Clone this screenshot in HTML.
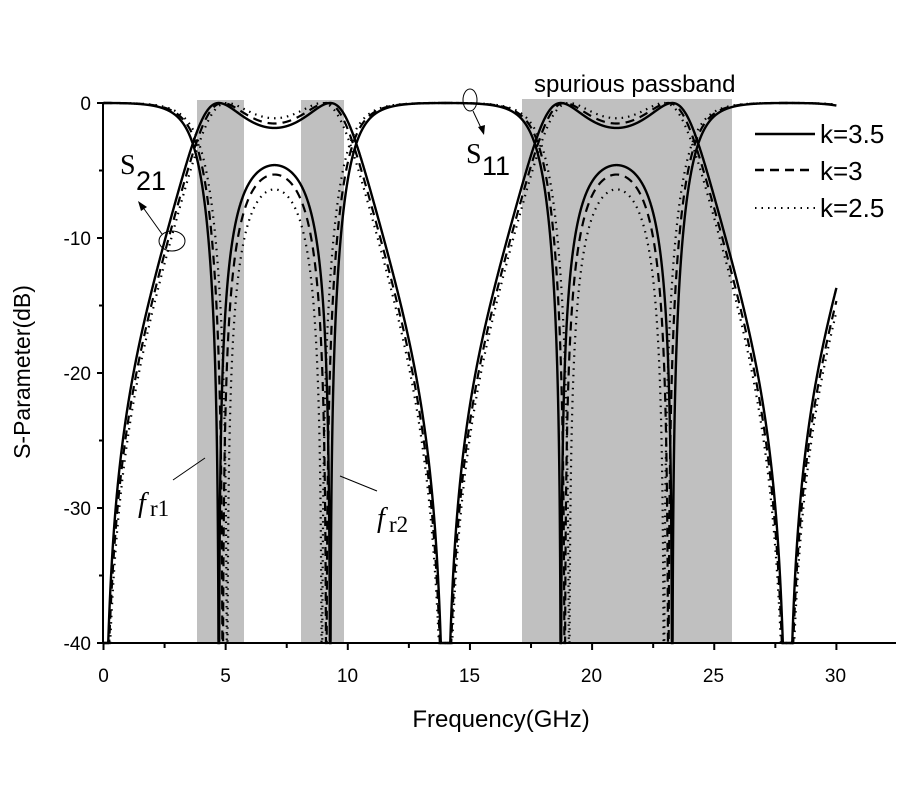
<!DOCTYPE html>
<html><head><meta charset="utf-8"><style>
html,body{margin:0;padding:0;background:#fff;}
svg{display:block;font-family:"Liberation Sans",Arial,sans-serif;}
</style></head><body>
<svg id="s" width="900" height="800" viewBox="0 0 900 800" xmlns="http://www.w3.org/2000/svg">
<rect x="197" y="100" width="47" height="543" fill="#c0c0c0"/>
<rect x="301" y="100" width="43" height="543" fill="#c0c0c0"/>
<rect x="522" y="99" width="210" height="544" fill="#c0c0c0"/>
<g id="curves" fill="none" stroke="#000"></g>
<g stroke="#000" stroke-width="2" fill="none">
<line x1="103" y1="102" x2="103" y2="644"/>
<line x1="102" y1="643" x2="896" y2="643"/>
<line x1="97" y1="103" x2="103" y2="103"/>
<line x1="97" y1="238" x2="103" y2="238"/>
<line x1="97" y1="373" x2="103" y2="373"/>
<line x1="97" y1="508" x2="103" y2="508"/>
<line x1="97" y1="643" x2="103" y2="643"/>
<line x1="99" y1="170.5" x2="103" y2="170.5"/>
<line x1="99" y1="305.5" x2="103" y2="305.5"/>
<line x1="99" y1="440.5" x2="103" y2="440.5"/>
<line x1="99" y1="575.5" x2="103" y2="575.5"/>
</g>
<g id="xt" stroke="#000" stroke-width="2"></g>
<g font-size="19" fill="#000" text-anchor="end">
<text x="91" y="110">0</text>
<text x="91" y="245">-10</text>
<text x="91" y="380">-20</text>
<text x="91" y="515">-30</text>
<text x="91" y="650">-40</text>
</g>
<g font-size="19" fill="#000" text-anchor="middle">
<text x="103.5" y="682">0</text>
<text x="225.5" y="682">5</text>
<text x="347.5" y="682">10</text>
<text x="469.5" y="682">15</text>
<text x="591.5" y="682">20</text>
<text x="713.5" y="682">25</text>
<text x="835.5" y="682">30</text>
</g>
<text x="501" y="727" font-size="24" text-anchor="middle">Frequency(GHz)</text>
<text transform="translate(30,372) rotate(-90)" font-size="23" text-anchor="middle">S-Parameter(dB)</text>
<text x="534" y="92" font-size="24">spurious passband</text>
<g stroke="#000" stroke-width="2.5">
<line x1="755" y1="134" x2="815" y2="134"/>
<line x1="755" y1="170" x2="815" y2="170" stroke-dasharray="9,6"/>
<line x1="755" y1="208" x2="815" y2="208" stroke-dasharray="1.5,5" stroke-width="2"/>
</g>
<g font-size="26"><text x="820" y="143">k=3.5</text><text x="820" y="180">k=3</text><text x="820" y="217">k=2.5</text></g>
<text x="120" y="174" font-size="28" font-family="Liberation Serif,serif">S</text>
<text x="136" y="190" font-size="27">21</text>
<ellipse cx="172" cy="241" rx="13" ry="10" fill="none" stroke="#000" stroke-width="1"/>
<line x1="162" y1="234" x2="142" y2="206" stroke="#000" stroke-width="1"/>
<polygon points="138,201 147,207 141,211" fill="#000"/>
<text x="466" y="163" font-size="28" font-family="Liberation Serif,serif">S</text>
<text x="482" y="175" font-size="27">11</text>
<ellipse cx="470" cy="100" rx="7" ry="11" fill="none" stroke="#000" stroke-width="1"/>
<line x1="473" y1="111" x2="482" y2="130" stroke="#000" stroke-width="1"/>
<polygon points="484,135 478,127 485,125" fill="#000"/>
<text x="138" y="512" font-size="28" font-style="italic" font-family="Liberation Serif,serif">f</text>
<text x="150" y="516" font-size="23" font-family="Liberation Serif,serif">r1</text>
<line x1="173" y1="480" x2="205" y2="458" stroke="#000" stroke-width="1"/>
<text x="377" y="527" font-size="28" font-style="italic" font-family="Liberation Serif,serif">f</text>
<text x="389" y="532" font-size="23" font-family="Liberation Serif,serif">r2</text>
<line x1="340" y1="476" x2="377" y2="491" stroke="#000" stroke-width="1"/>
</svg>
<script>
(function(){
var NS="http://www.w3.org/2000/svg";
var xt=document.getElementById('xt');
for(var i=0;i<=13;i++){var f=i*2.5;var x=103.5+f*24.43;if(x>896)break;
var l=document.createElementNS(NS,'line');l.setAttribute('x1',x);l.setAttribute('x2',x);l.setAttribute('y1',643);l.setAttribute('y2',i%2?648:650);xt.appendChild(l);}
var g=document.getElementById('curves');
function X(f){return 103.5+f*24.43;}
function Y(d){if(d<-40)d=-40;return 103+(-d)*13.5;}
var sets=[{fn:4.72,L:4.6,st:"",w:2.4,p:0.6},{fn:4.88,L:5.3,st:"9,6",w:2.2,p:0.63},{fn:5.06,L:6.4,st:"1.5,5",w:2.2,p:0.66}];
sets.forEach(function(s){
 var a=Math.cos(Math.PI*s.fn/14),a2=a*a;
 var r=Math.pow(10,-s.L/10);var Ka2=Math.sqrt(r/(1-r));var K=Ka2/a2;
 var p21="",p11="";
 for(var i=0;i<=6000;i++){
  var f=i*30/6000;
  var u=Math.cos(Math.PI*f/14),u2=u*u;
  var den=Math.pow(Math.max(1-u2,1e-12),s.p);
  var F=K*(u2-a2)/den;var F2=F*F;
  var s21=-10*Math.log10(1+F2);
  var s11=10*Math.log10(Math.max(F2/(1+F2),1e-9));
  p21+=(i?"L":"M")+X(f).toFixed(2)+","+Y(s21).toFixed(2);
  p11+=(i?"L":"M")+X(f).toFixed(2)+","+Y(s11).toFixed(2);
 }
 [p21,p11].forEach(function(d){var p=document.createElementNS(NS,'path');p.setAttribute('d',d);p.setAttribute('stroke-width',s.w);if(s.st)p.setAttribute('stroke-dasharray',s.st);g.appendChild(p);});
});
})();
</script>
</body></html>
